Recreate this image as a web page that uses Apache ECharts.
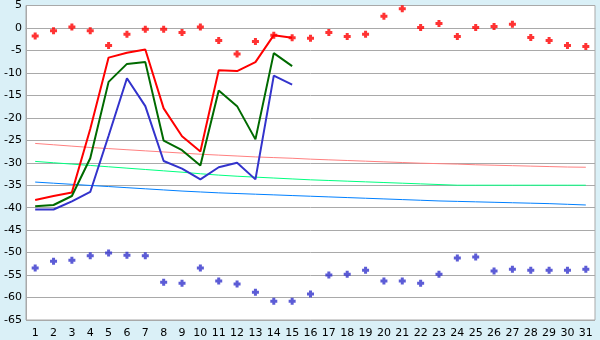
<!DOCTYPE html>
<html><head><meta charset="utf-8">
<script src="https://cdn.jsdelivr.net/npm/echarts@6/dist/echarts.min.js"></script>
<style>html,body{margin:0;padding:0;background:#daf0f7;}#c{width:600px;height:340px;}</style>
</head><body><div id="c"></div>
<script>
var categories = ['1','2','3','4','5','6','7','8','9','10','11','12','13','14','15','16','17','18','19','20','21','22','23','24','25','26','27','28','29','30','31'];
var yTicks = {min: -65, max: 5, interval: 5};
var redLine   = [-38.3,-37.4,-36.6,-22.5,-6.6,-5.5,-4.8,-17.9,-24.1,-27.5,-9.4,-9.6,-7.6,-1.6,-2.2];
var greenLine = [-39.7,-39.4,-37.4,-29.0,-12.0,-8.0,-7.6,-25.1,-27.2,-30.6,-13.9,-17.4,-24.8,-5.6,-8.5];
var blueLine  = [-40.4,-40.4,-38.6,-36.5,-24.0,-11.2,-17.4,-29.6,-31.3,-33.7,-31.0,-30.0,-33.7,-10.6,-12.6];
var redTrend  = [-25.7,-26.0,-26.3,-26.6,-26.85,-27.1,-27.35,-27.6,-27.85,-28.1,-28.3,-28.5,-28.7,-28.85,-29.0,-29.2,-29.35,-29.5,-29.65,-29.8,-29.95,-30.1,-30.2,-30.3,-30.45,-30.55,-30.65,-30.75,-30.85,-30.95,-31.0];
var greenTrend= [-29.7,-30.0,-30.3,-30.6,-30.9,-31.2,-31.5,-31.8,-32.1,-32.45,-32.75,-33.0,-33.2,-33.4,-33.6,-33.8,-33.95,-34.1,-34.25,-34.4,-34.55,-34.7,-34.85,-35.0,-35.0,-35.0,-35.0,-35.0,-35.0,-35.0,-35.0];
var blueTrend = [-34.3,-34.55,-34.8,-35.05,-35.3,-35.55,-35.8,-36.05,-36.3,-36.5,-36.7,-36.85,-37.0,-37.15,-37.3,-37.45,-37.6,-37.75,-37.9,-38.05,-38.2,-38.35,-38.5,-38.6,-38.7,-38.8,-38.9,-39.0,-39.1,-39.25,-39.4];
var redDots   = [-1.8,-0.6,0.2,-0.6,-3.9,-1.4,-0.3,-0.3,-1.0,0.2,-2.8,-5.8,-3.0,-1.6,-2.2,-2.3,-1.0,-1.9,-1.4,2.6,4.3,0.1,1.0,-1.9,0.1,0.3,0.8,-2.1,-2.8,-3.9,-4.1];
var blueDots  = [-53.4,-51.9,-51.7,-50.7,-50.1,-50.6,-50.7,-56.6,-56.8,-53.4,-56.3,-57.0,-58.8,-60.8,-60.8,-59.2,-55.0,-54.8,-53.9,-56.3,-56.3,-56.8,-54.8,-51.2,-51.0,-54.1,-53.7,-53.9,-53.9,-53.9,-53.7];

var plus = 'path://M2,0H5V2H7V5H5V7H2V5H0V2H2Z';
var font = {fontFamily: 'DejaVu Sans', fontSize: 11, color: '#000'};
function line(name, data, color, width, z) {
  return {name: name, type: 'line', data: data, symbol: 'none', z: z,
    lineStyle: {color: color, width: width}, itemStyle: {color: color}, animation: false};
}
function dots(name, data, color) {
  return {name: name, type: 'scatter', data: data, symbol: plus, symbolSize: 7, z: 10,
    itemStyle: {color: color}, animation: false};
}
var chart = echarts.init(document.getElementById('c'), null, {renderer: 'canvas'});
chart.setOption({
  backgroundColor: '#daf0f7',
  animation: false,
  grid: {left: 26, right: 5, top: 5, bottom: 20, show: true, backgroundColor: '#ffffff', borderColor: '#a9a9a9', borderWidth: 1},
  xAxis: {type: 'category', data: categories, boundaryGap: true,
    axisLine: {lineStyle: {color: '#a9a9a9', width: 1}},
    axisTick: {alignWithLabel: true, length: 6, lineStyle: {color: '#a9a9a9'}},
    axisLabel: Object.assign({margin: 8, interval: 0}, font),
    splitLine: {show: false}},
  yAxis: {type: 'value', min: yTicks.min, max: yTicks.max, interval: yTicks.interval,
    axisLine: {show: true, lineStyle: {color: '#a9a9a9', width: 1}},
    axisTick: {show: false},
    axisLabel: Object.assign({margin: 4}, font),
    splitLine: {show: true, lineStyle: {color: '#a9a9a9', width: 1}}},
  series: [
    line('redTrend', redTrend, '#ff8080', 1, 2),
    line('greenTrend', greenTrend, '#00ff80', 1, 2),
    line('blueTrend', blueTrend, '#0080ff', 1, 2),
    line('red', redLine, '#ff0000', 2, 3),
    line('green', greenLine, '#006a00', 2, 3),
    line('blue', blueLine, '#3333cc', 2, 3),
    dots('redDots', redDots, '#ff0000'),
    dots('blueDots', blueDots, '#3333cc')
  ]
});
</script></body></html>
